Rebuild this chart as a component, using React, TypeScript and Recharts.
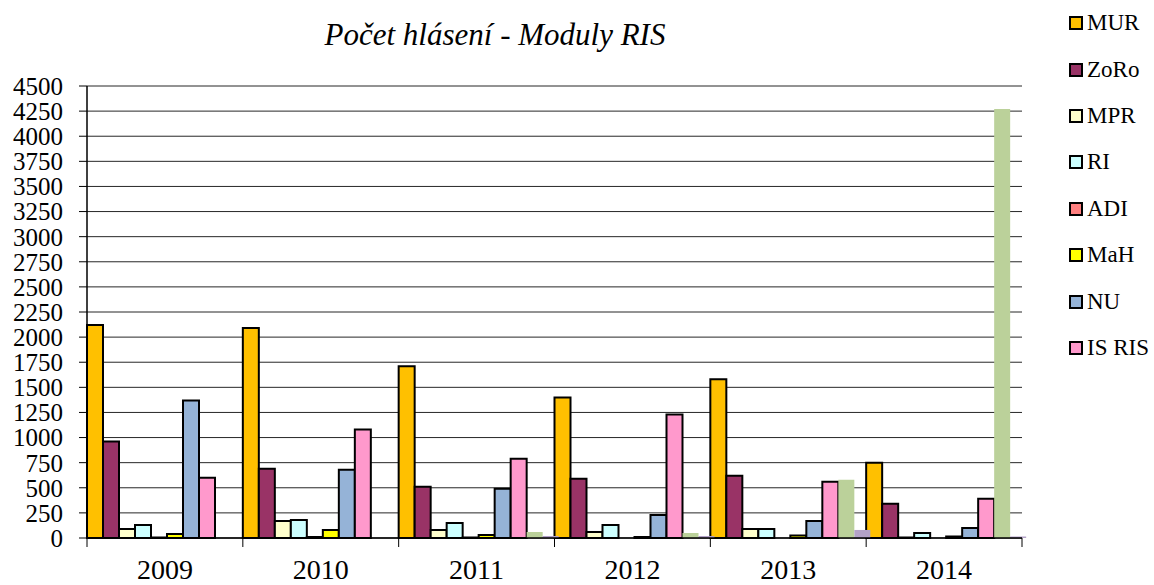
import React from "react";
import { BarChart, Bar, XAxis, YAxis, CartesianGrid } from "recharts";

const years = ["2009", "2010", "2011", "2012", "2013", "2014"];
const mur = [2120, 2090, 1710, 1400, 1580, 750];
const zoro = [960, 690, 510, 590, 620, 340];
const mpr = [90, 170, 80, 60, 90, 5];
const ri = [130, 180, 150, 130, 90, 50];
const adi = [5, 10, 5, 0, 0, 0];
const mah = [40, 80, 30, 10, 25, 15];
const nu = [1370, 680, 490, 230, 170, 100];
const isris = [600, 1080, 790, 1230, 560, 390];
const other1 = [0, 0, 60, 50, 580, 4270];
const other2 = [0, 0, 20, 20, 80, 15];
const yTicks = [
  0, 250, 500, 750, 1000, 1250, 1500, 1750, 2000, 2250, 2500, 2750, 3000,
  3250, 3500, 3750, 4000, 4250, 4500,
];

const series = [
  { key: "MUR", values: mur, color: "#FFC000", legend: true },
  { key: "ZoRo", values: zoro, color: "#993366", legend: true },
  { key: "MPR", values: mpr, color: "#FFFFCC", legend: true },
  { key: "RI", values: ri, color: "#CCFFFF", legend: true },
  { key: "ADI", values: adi, color: "#FF8080", legend: true },
  { key: "MaH", values: mah, color: "#FFFF00", legend: true },
  { key: "NU", values: nu, color: "#95B3D7", legend: true },
  { key: "IS RIS", values: isris, color: "#FF99CC", legend: true },
  { key: "other1", values: other1, color: "#BBD19A", legend: false },
  { key: "other2", values: other2, color: "#B3A2C7", legend: false },
];

const data = years.map((y, i) => {
  const row: any = { year: y };
  series.forEach((s) => {
    row[s.key] = s.values[i];
  });
  return row;
});

const font = "Liberation Serif, Times New Roman, serif";

const YearTick = (props: any) => {
  const { x, y, payload, index } = props;
  const half = 935 / 6 / 2;
  return (
    <g>
      <line x1={x - half} y1={y - 8} x2={x - half} y2={y + 1} stroke="#000" />
      {index === years.length - 1 && (
        <line x1={x + half} y1={y - 8} x2={x + half} y2={y + 1} stroke="#000" />
      )}
      <text
        x={x}
        y={y + 33}
        textAnchor="middle"
        fontFamily={font}
        fontSize={28}
        fill="#000"
      >
        {payload.value}
      </text>
    </g>
  );
};

const LegendBox = () => (
  <div
    style={{
      position: "absolute",
      left: 1069,
      top: 0,
      fontFamily: font,
      fontSize: 23,
      color: "#000",
    }}
  >
    {series
      .filter((s) => s.legend)
      .map((s) => (
        <div
          key={s.key}
          style={{
            display: "flex",
            alignItems: "center",
            height: 46.4,
            whiteSpace: "nowrap",
          }}
        >
          <span
            style={{
              display: "inline-block",
              width: 10,
              height: 10,
              background: s.color,
              border: "2px solid #000",
              marginRight: 4,
            }}
          />
          {s.key}
        </div>
      ))}
  </div>
);

const App = () => {
  return (
    <div
      style={{
        position: "absolute",
        left: 0,
        top: 0,
        width: 1154,
        height: 585,
        background: "#fff",
      }}
    >
      <div
        style={{
          position: "absolute",
          left: 0,
          width: 990,
          top: 17,
          textAlign: "center",
          fontFamily: font,
          fontStyle: "italic",
          fontSize: 31,
          color: "#000",
        }}
      >
        Počet hlásení - Moduly RIS
      </div>
      <LegendBox />
      <BarChart
        width={1154}
        height={585}
        data={data}
        margin={{ top: 86, right: 132, left: 7, bottom: 7 }}
        barCategoryGap={0}
        barGap={0}
      >
        <CartesianGrid vertical={false} stroke="#000" strokeOpacity={0.85} />
        <XAxis
          dataKey="year"
          height={40}
          axisLine={{ stroke: "#000", strokeWidth: 1.5 }}
          tickLine={false}
          tick={<YearTick />}
          interval={0}
        />
        <YAxis
          width={80}
          domain={[0, 4500]}
          ticks={yTicks}
          interval={0}
          axisLine={{ stroke: "#000", strokeWidth: 1.5 }}
          tickLine={{ stroke: "#000" }}
          tickSize={8}
          tickMargin={16}
          tick={{ fontFamily: font, fontSize: 25, fill: "#000" }}
        />
        {series.map((s) => (
          <Bar
            key={s.key}
            dataKey={s.key}
            fill={s.color}
            stroke={s.legend ? "#000" : "none"}
            strokeWidth={s.legend ? 2 : 0}
            isAnimationActive={false}
          />
        ))}
      </BarChart>
    </div>
  );
};

export default App;
